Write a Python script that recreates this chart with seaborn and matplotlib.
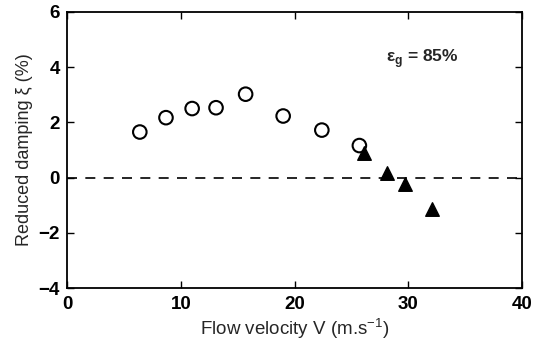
import matplotlib
matplotlib.use("Agg")
import matplotlib.pyplot as plt
import seaborn as sns
import pandas as pd

# Data
v_circle = [6.4, 8.7, 11.0, 13.1, 15.7, 19.0, 22.4, 25.7]
xi_circle = [1.65, 2.17, 2.50, 2.53, 3.02, 2.23, 1.72, 1.16]
v_tri = [26.1, 28.1, 29.75, 32.1]
xi_tri = [0.90, 0.18, -0.24, -1.14]
x_ticks = [0, 10, 20, 30, 40]
y_ticks = [-4, -2, 0, 2, 4, 6]

sns.set_theme(style="ticks")
plt.rcParams['font.family'] = ['Liberation Sans', 'DejaVu Sans']
plt.rcParams['mathtext.fontset'] = 'custom'
plt.rcParams['mathtext.rm'] = 'Liberation Sans'

df = pd.DataFrame({
    "V": v_circle + v_tri,
    "xi": xi_circle + xi_tri,
    "kind": ["circle"] * len(v_circle) + ["tri"] * len(v_tri),
})

fig = plt.figure(figsize=(5.36, 3.5), dpi=100)
ax = fig.add_axes([0.125, 0.177, 0.849, 0.789])

ax.axhline(0, color="black", lw=1.2, ls=(0, (6, 5)), zorder=1)

sns.scatterplot(data=df[df.kind == "circle"], x="V", y="xi", ax=ax,
                marker="o", s=95, facecolor="none", edgecolor="black",
                linewidth=1.5, legend=False, zorder=3)
sns.scatterplot(data=df[df.kind == "tri"], x="V", y="xi", ax=ax,
                marker="^", s=95, color="black", edgecolor="black",
                linewidth=1.0, legend=False, zorder=4)

ax.set_xlim(0, 40)
ax.set_ylim(-4, 6)
ax.set_xticks(x_ticks)
ax.set_yticks(y_ticks)
ax.tick_params(direction="in", length=5, width=1, top=True, right=True,
               labelsize=13.5, colors="black")
ax.tick_params(axis="x", pad=6)
ax.tick_params(axis="y", pad=5)
for lab in ax.get_xticklabels() + ax.get_yticklabels():
    lab.set_fontweight("bold")
for sp in ax.spines.values():
    sp.set_visible(True)
    sp.set_linewidth(1.3)
    sp.set_color("black")

ax.set_xlabel(r"Flow velocity V (m.s$^{-1}$)", fontsize=13.5, labelpad=2)
ax.set_ylabel("Reduced damping ξ (%)", fontsize=13, labelpad=4)
ax.text(28.0, 4.3, r"ε$_\mathregular{g}$ = 85%", fontsize=12.5, fontweight="bold",
        ha="left", va="center")

fig.savefig("out.png", dpi=100)
